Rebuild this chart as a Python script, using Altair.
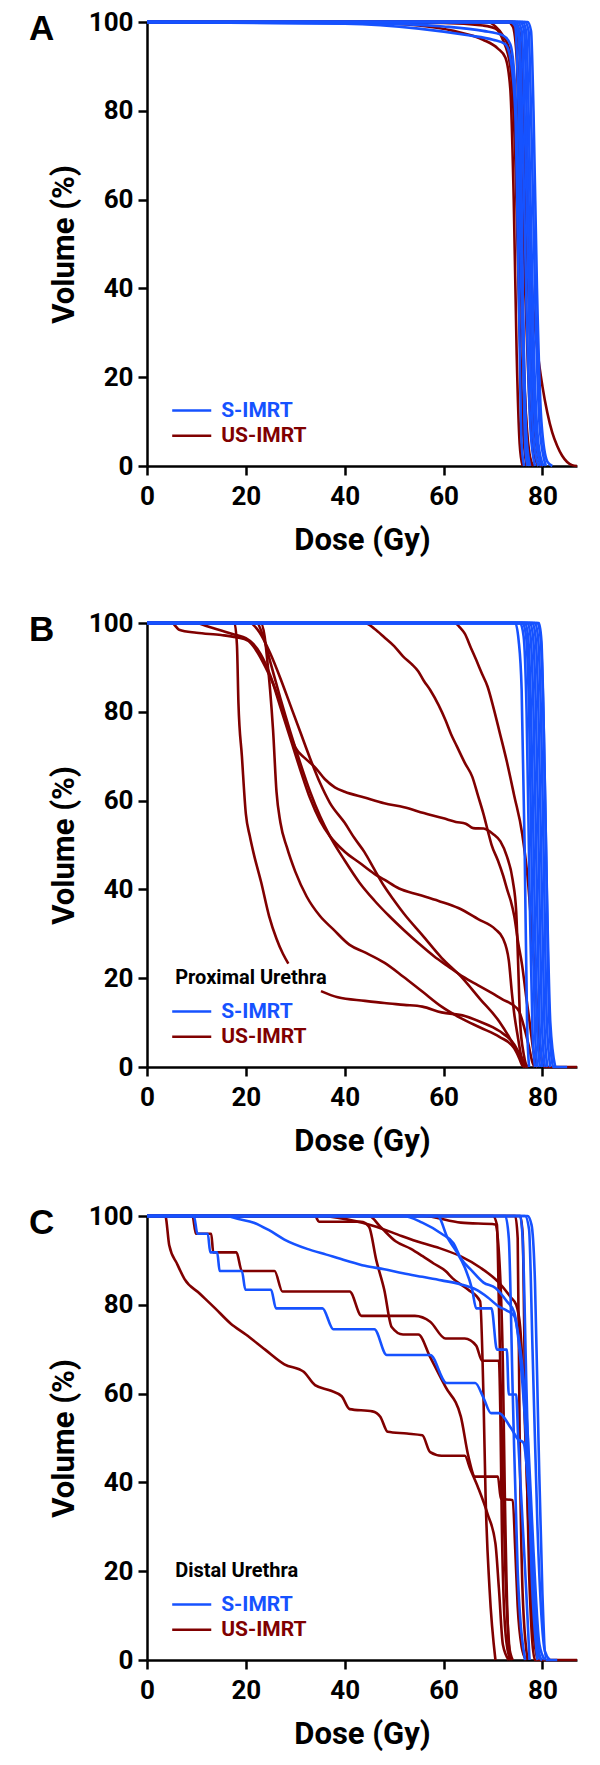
import altair as alt
import pandas as pd

BLUE = "#1652ff"
RED = "#800000"
FONT = "Roboto, Liberation Sans, sans-serif"
LETTER_FONT = "Liberation Sans, Arial, sans-serif"

# ---------------- Panel A ----------------
A_S = [
    [(0, 100), (40, 99.6), (55, 98.5), (65, 97), (70, 96), (72.5, 95), (73.5, 92), (74.5, 80), (75.2, 40), (75.8, 5), (76.3, 0)],
    [(0, 100), (45, 99.7), (60, 99), (68, 98), (72, 97), (73.5, 95), (74.5, 85), (75.5, 50), (76.5, 10), (77.3, 0)],
    [(0, 100), (73.5, 100), (74.5, 99), (75.2, 80), (76, 40), (76.7, 8), (77.5, 0)],
    [(0, 100), (74.5, 100), (75.3, 98), (76, 75), (76.8, 35), (77.6, 8), (78.5, 0)],
    [(0, 100), (75, 100), (75.8, 98), (76.6, 70), (77.4, 30), (78.2, 6), (79.2, 0)],
    [(0, 100), (75.5, 100), (76.3, 98), (77, 70), (77.8, 30), (78.7, 6), (79.7, 0)],
    [(0, 100), (76, 100), (76.7, 98), (77.5, 65), (78.3, 25), (79.2, 5), (80.2, 0)],
    [(0, 100), (76.5, 100), (77.2, 98), (77.8, 75), (78.6, 35), (79.5, 8), (80.7, 0)],
    [(0, 100), (77, 100), (77.7, 98), (78.2, 80), (78.9, 40), (79.8, 10), (81, 1), (82, 0)],
    [(0, 100), (74.5, 100), (75.3, 95), (75.8, 60), (76.2, 20), (76.6, 3), (77, 0)],
]
A_US = [
    [(0, 100), (45, 99.8), (55, 99.2), (62, 98), (68, 96), (71, 94), (72.5, 92), (73.5, 85), (74.2, 60), (74.8, 25), (75.4, 5), (76, 0)],
    [(0, 100), (60, 99.8), (68, 99.2), (70.5, 98.5), (72, 96), (73.5, 90), (74.5, 70), (75.3, 35), (76, 10), (76.8, 0)],
    [(0, 100), (69, 100), (70.5, 99), (72, 97), (73.5, 93), (74.5, 80), (75.5, 45), (76.5, 15), (77.5, 2), (78.2, 0)],
    [(0, 100), (73.5, 100), (74.5, 98), (75.5, 75), (76.5, 40), (77.5, 12), (78.5, 2), (79.2, 0)],
    [(0, 100), (74, 100), (75, 98.5), (76, 80), (77, 45), (78, 15), (79, 3), (79.8, 0)],
    [(0, 100), (74.5, 100), (75.5, 97), (76.5, 70), (77.5, 35), (78.5, 10), (79.5, 1), (80, 0)],
    [(0, 100), (74, 100), (75, 97), (76, 85), (77, 60), (78, 38), (79, 26), (80, 18), (81, 12), (82, 7.5), (83, 4.5), (84, 2.3), (85, 0.9), (86, 0.2), (87, 0)],
    [(0, 100), (73, 100), (74, 99), (74.8, 92), (75.5, 60), (76.2, 25), (77, 5), (77.8, 0)],
]

# ---------------- Panel B ----------------
B_S = [
    [(0, 100), (74.5, 100), (75.2, 96), (75.8, 85), (76.4, 50), (76.9, 10), (77.3, 0)],
    [(0, 100), (75.5, 100), (76.2, 97), (76.8, 80), (77.4, 40), (78, 8), (78.5, 0)],
    [(0, 100), (76.5, 100), (77.1, 97), (77.7, 80), (78.3, 45), (78.9, 10), (79.5, 0)],
    [(0, 100), (77, 100), (77.6, 97), (78.2, 80), (78.8, 45), (79.4, 10), (80, 0)],
    [(0, 100), (77.5, 100), (78.1, 97), (78.7, 80), (79.3, 45), (79.9, 10), (80.5, 0)],
    [(0, 100), (78, 100), (78.6, 97), (79.2, 80), (79.8, 45), (80.4, 10), (81, 0)],
    [(0, 100), (78.5, 100), (79.1, 97), (79.7, 80), (80.3, 45), (80.9, 10), (81.6, 0)],
    [(0, 100), (79, 100), (79.6, 97), (80.2, 80), (80.8, 45), (81.4, 10), (82.2, 0), (85, 0)],
    [(0, 100), (76, 100), (76.7, 97), (77.3, 80), (77.9, 40), (78.5, 8), (79, 0)],
    [(0, 100), (79.3, 100), (79.8, 96), (80.3, 75), (80.9, 40), (81.6, 10), (82.6, 0)],
]
B_US = [
    [(0, 100), (17.7, 100), (18.2, 95), (18.5, 82), (19.2, 70), (20, 57), (20.8, 52), (21.6, 48), (23.1, 41.6), (24.7, 34), (26.2, 28.9), (27.5, 25.5), (28.6, 23.3)],
    [(35.2, 17.1), (38.6, 15.7), (44.1, 14.9), (48, 14.4), (52, 14), (55.7, 13.6), (59.6, 12.3), (64.3, 11.5), (67.4, 10.2), (71.3, 8.1), (74.3, 5.1), (75.6, 2.5), (76.7, 0.5), (77.2, 0)],
    [(0, 100), (5, 100), (6.5, 98.5), (10, 97.8), (15, 97.3), (18, 96.8), (20.5, 96), (22, 94), (24, 90), (26, 85), (28, 78), (30, 72), (32, 69.5), (34, 67.5), (36, 64.8), (38, 63), (40, 62), (44, 60.7), (48, 59.4), (52, 58.5), (56, 57.2), (60, 56), (62.5, 55.2), (64.5, 54.8), (66, 53.8), (68.1, 53.7), (70, 52.5), (71.5, 50.8), (72.8, 47.5), (74, 42), (74.7, 35), (75.1, 23), (75.5, 10), (76.2, 3), (76.8, 0)],
    [(0, 100), (10, 100), (12, 99.3), (15, 98.3), (18, 97.3), (20, 96.6), (21.5, 95.3), (23, 93), (25, 88), (27, 81), (29, 74), (31, 67), (33, 60.5), (35, 55.5), (37, 52), (40, 48.5), (43, 46), (46, 43.5), (48, 42.2), (51, 40.2), (55, 38.8), (59, 37.4), (63, 35.8), (67, 33.3), (70.5, 31), (72, 29), (73.2, 24), (73.8, 17), (74.3, 12), (75, 7), (75.7, 2.5), (76.3, 0.3), (76.8, 0)],
    [(0, 100), (22.2, 100), (23.5, 97), (25, 91), (27, 83), (29, 75.5), (31, 68.5), (33, 62), (35, 56.5), (37, 52), (40, 46.5), (43, 41.5), (46, 37.5), (49, 34), (52, 30.8), (55, 27.8), (58, 25), (61, 22.6), (64, 20.3), (67, 18.4), (70, 16.5), (72, 15.2), (74, 14), (75.3, 12.5), (76.3, 9), (77.2, 5), (78, 1), (78.4, 0)],
    [(0, 100), (20.9, 100), (22, 99), (23.5, 96.5), (25, 93), (27, 87.5), (29, 81.5), (31, 75.5), (33, 69.5), (35, 64), (37, 59.5), (40, 55), (42, 51.5), (44, 48.4), (46, 44.5), (48, 40.7), (50, 37.5), (52, 34.5), (55.7, 29.7), (59.6, 24.6), (63.5, 20.4), (67.4, 15.3), (71.3, 10.2), (73.5, 6.3), (75.1, 3), (76.4, 0.5), (76.9, 0)],
    [(0, 100), (23, 100), (23.8, 97), (24.3, 92), (24.9, 85), (25.5, 76), (26.2, 62), (27, 55), (28.3, 49.5), (30, 44), (32.3, 38.4), (35, 34), (37.7, 31), (41, 27.5), (44.1, 25.8), (48, 23.5), (51.8, 20.4), (55.7, 17), (59.6, 13.6), (63.5, 11), (67.4, 8.9), (71.3, 6.8), (74.3, 4.2), (75.3, 2), (75.9, 0.4), (76.4, 0)],
    [(0, 100), (44.1, 100), (46, 98.7), (48, 96.8), (50, 94.8), (51.8, 92.5), (53.5, 90.8), (54.9, 89.1), (56, 87), (57.3, 84.9), (59, 81.5), (60.4, 78.1), (61.5, 75), (62.7, 72.2), (64.3, 68.5), (65.8, 65.4), (67, 61), (68.1, 56.9), (69, 53), (69.7, 50.1), (71, 46.5), (72, 43.3), (73, 39.5), (73.6, 37.4), (74.3, 34), (75.1, 28), (75.9, 22.9), (76.7, 16), (77.4, 10.2), (78, 5), (78.6, 0.8), (79, 0)],
    [(0, 100), (62.3, 100), (63.3, 99), (64.3, 97.6), (65.5, 94.5), (66.6, 91.7), (67.8, 88.5), (68.9, 85.7), (70.2, 80.5), (71.3, 75.6), (72.8, 68.8), (74.3, 61.1), (75.9, 52.6), (77.1, 41.6), (77.8, 31.4), (78.6, 18.7), (79.4, 5.9), (80.1, 0.4), (80.5, 0), (87, 0)],
]

# ---------------- Panel C ----------------
C_S = [
    [(0, 100), (9.5, 100), (10.2, 96), (12.3, 96), (12.8, 91.8), (14.2, 91.8), (14.7, 87.6), (19.2, 87.6), (19.9, 83.4), (25.1, 83.4), (26.1, 79.2), (35.5, 79.2), (37.7, 74.5), (46, 74.5), (48.5, 68.7), (57.3, 68.7), (60.6, 62.4), (66.4, 62.4), (68.1, 59), (69.6, 55.6), (71.2, 55.6), (73.6, 52.3), (75.1, 49.7), (76.2, 48.9), (77, 41.3), (77.8, 28.7), (78.6, 11.9), (79.4, 0.6), (80, 0)],
    [(0, 100), (16, 100), (18.5, 99.3), (21.6, 98.5), (24.7, 96.8), (27.8, 94.7), (32.4, 92.6), (36.3, 91.3), (40.2, 90), (44.1, 88.8), (48, 88), (51.8, 87.1), (55.7, 86.3), (59.6, 85.5), (63.5, 84.6), (66.6, 83.4), (68.9, 81.7), (71.2, 79.6), (72.8, 78.7), (74.3, 77.5), (75.1, 73.3), (75.9, 66.6), (77.1, 49.7), (78.2, 24.5), (79.4, 3.5), (80.5, 0)],
    [(0, 100), (51.8, 100), (55.7, 98.5), (59.6, 96), (62, 93.9), (63.5, 90.5), (65.8, 87.6), (68.1, 85), (70.5, 83.8), (72.8, 80.8), (74.3, 78.3), (75.5, 68.3), (76.7, 49.7), (77.8, 24.5), (79, 3.5), (79.8, 0)],
    [(0, 100), (58.8, 100), (60.8, 95.1), (62.7, 91.8), (64.3, 88.4), (65.8, 83.4), (66.6, 79.2), (69.7, 79.2), (70.8, 69.9), (72.8, 69.9), (73.2, 59.8), (74.7, 59.8), (75.1, 49.7), (75.9, 32.9), (76.7, 16.1), (77.4, 0)],
    [(0, 100), (72.5, 100), (73.2, 95), (74, 60), (75, 20), (76.5, 0)],
    [(0, 100), (75.5, 100), (76, 95), (76.8, 60), (77.8, 20), (79, 0)],
    [(0, 100), (76.5, 100), (77.3, 97), (78, 70), (79, 30), (80.5, 2), (81.5, 0)],
    [(0, 100), (77, 100), (77.8, 98), (78.5, 85), (79.2, 50), (80, 15), (80.8, 0), (83, 0)],
]
C_US = [
    [(0, 100), (3.7, 100), (4.5, 93.4), (6.1, 89.2), (7.6, 85.8), (10.7, 82.5), (13.8, 79.2), (16.9, 75.8), (20, 73.3), (23.9, 69.9), (27.8, 66.6), (31.7, 64.9), (34, 61.9), (37.1, 60.7), (39.4, 59.4), (41, 56.5), (45.6, 56), (47.2, 54.8), (48.7, 51.4), (52.6, 51), (55.7, 50.6), (57.3, 46.8), (59.6, 46), (64.3, 46), (65.4, 43), (67, 38.8), (68.9, 32.9), (70.5, 26.2), (71.2, 16.1), (72, 3.5), (73.2, 0)],
    [(0, 100), (9.2, 100), (9.9, 96), (13, 96), (13.4, 91.8), (18.1, 91.8), (19.2, 87.6), (25.8, 87.6), (27.4, 83), (41, 83), (43.4, 77.5), (54.2, 77.5), (57.3, 76.2), (60.4, 72.4), (64.3, 72.4), (66.6, 70.8), (67.8, 67.4), (71.2, 67.4), (71.5, 55), (71.8, 30), (72.3, 10), (73, 2), (73.6, 0)],
    [(0, 100), (34, 100), (34.8, 98.7), (43.3, 98.7), (44.9, 97.6), (46.4, 90), (48, 83.4), (49.5, 75), (51.8, 73.3), (54.9, 73.3), (57.3, 68.2), (60.4, 61.5), (63.5, 54.8), (65, 46), (66.4, 41.3), (71, 41.3), (71.6, 36.3), (74, 36), (74.5, 25), (75, 12), (75.8, 3), (76.7, 0)],
    [(0, 100), (55.7, 100), (63.5, 98.5), (70.5, 98.1), (71.2, 91.8), (72, 66.6), (72.4, 37.1), (73.2, 3.5), (74, 0)],
    [(0, 100), (44.9, 100), (47.2, 97.6), (50.3, 94.3), (53.4, 92.6), (55.7, 91), (58, 89.3), (60.4, 87.6), (61.9, 85.9), (65, 83.4), (67.4, 80.8), (68.1, 58.2), (68.5, 37.1), (69.3, 16.1), (70.5, 0)],
    [(0, 100), (34.8, 100), (40.2, 99.3), (46.4, 97.6), (51.5, 95.5), (55.7, 93.9), (59.6, 92.6), (63.5, 90.9), (67.4, 88.4), (71.2, 85), (73.6, 81.7), (74.7, 80), (75.5, 75), (76.3, 58.2), (77.1, 32.9), (77.8, 11.9), (79, 0)],
    [(0, 100), (70, 100), (70.8, 98), (71.2, 80), (71.8, 50), (72.5, 20), (73.5, 0)],
    [(0, 100), (74.5, 100), (75, 95), (75.4, 50), (76, 15), (77, 0)],
    [(0, 100), (75.5, 100), (76, 96), (76.5, 60), (77.3, 20), (78.5, 0), (87, 0)],
]

X_TICKS = [0, 20, 40, 60, 80]
Y_TICKS = [0, 20, 40, 60, 80, 100]
LEGEND_NAMES = ["S-IMRT", "US-IMRT"]
PANEL_LETTERS = ["A", "B", "C"]
PANEL_LABELS = [None, "Proximal Urethra", "Distal Urethra"]


def to_df(curves, prefix):
    rows = []
    for ci, curve in enumerate(curves):
        for i, (d, v) in enumerate(curve):
            rows.append({"curve": f"{prefix}{ci}", "i": i, "dose": d, "vol": v})
    return pd.DataFrame(rows)


X = alt.X("dose:Q", scale=alt.Scale(domain=[0, 87], nice=False, zero=False),
          axis=alt.Axis(values=X_TICKS, title="Dose (Gy)", labelFlush=False,
                        labelPadding=8, titlePadding=16))
Y = alt.Y("vol:Q", scale=alt.Scale(domain=[0, 100], nice=False),
          axis=alt.Axis(values=Y_TICKS, title="Volume (%)", labelPadding=5,
                        titlePadding=8))


def panel(letter, S, US, label):
    us = alt.Chart(to_df(US, "u")).mark_line(
        strokeWidth=2.6, interpolate="monotone", color=RED, strokeJoin="round"
    ).encode(x=X, y=Y, detail="curve:N", order="i:Q")
    s = alt.Chart(to_df(S, "s")).mark_line(
        strokeWidth=2.6, interpolate="monotone", color=BLUE, strokeJoin="round"
    ).encode(x=X, y=Y, detail="curve:N", order="i:Q")

    leg = pd.DataFrame({
        "dose": [5.1, 5.1], "dose2": [13.0, 13.0], "vol": [12.5, 6.8],
        "c": [BLUE, RED], "t": LEGEND_NAMES, "tx": [15.0, 15.0],
    })
    rules = alt.Chart(leg).mark_rule(strokeWidth=2.6).encode(
        x=X, x2="dose2:Q", y=Y, color=alt.Color("c:N", scale=None))
    texts = alt.Chart(leg).mark_text(
        align="left", baseline="middle", font=FONT, fontSize=21, fontWeight="bold"
    ).encode(x=alt.X("tx:Q"), y=Y, text="t:N", color=alt.Color("c:N", scale=None))

    layers = [us, s, rules, texts]
    if label:
        lab = pd.DataFrame({"tx": [5.7], "vol": [20.0], "t": [label]})
        layers.append(alt.Chart(lab).mark_text(
            align="left", baseline="middle", font=FONT, fontSize=20,
            fontWeight="bold", color="black"
        ).encode(x=alt.X("tx:Q"), y=Y, text="t:N"))

    let = pd.DataFrame({"t": [letter]})
    layers.append(alt.Chart(let).mark_text(
        align="left", baseline="alphabetic", font=LETTER_FONT,
        fontSize=35, fontWeight="bold", color="black"
    ).encode(x=alt.value(-118), y=alt.value(18), text="t:N"))

    return alt.layer(*layers).properties(width=430, height=444)


pA = panel(PANEL_LETTERS[0], A_S, A_US, PANEL_LABELS[0])
pB = panel(PANEL_LETTERS[1], B_S, B_US, PANEL_LABELS[1])
pC = panel(PANEL_LETTERS[2], C_S, C_US, PANEL_LABELS[2])

chart = alt.vconcat(
    pA, alt.vconcat(pB, pC, spacing=47), spacing=55
).properties(
    padding={"left": 21, "top": 1, "right": 0, "bottom": 10}
).configure_axis(
    domainColor="black", domainWidth=2.5, tickColor="black", tickWidth=2.5,
    tickSize=9, grid=False,
    labelFont=FONT, labelFontSize=26, labelFontWeight="bold", labelColor="black",
    titleFont=FONT, titleFontSize=31, titleFontWeight="bold", titleColor="black",
).configure_view(stroke=None)

chart.save("out.html", embed_options={"renderer": "svg", "actions": False})
